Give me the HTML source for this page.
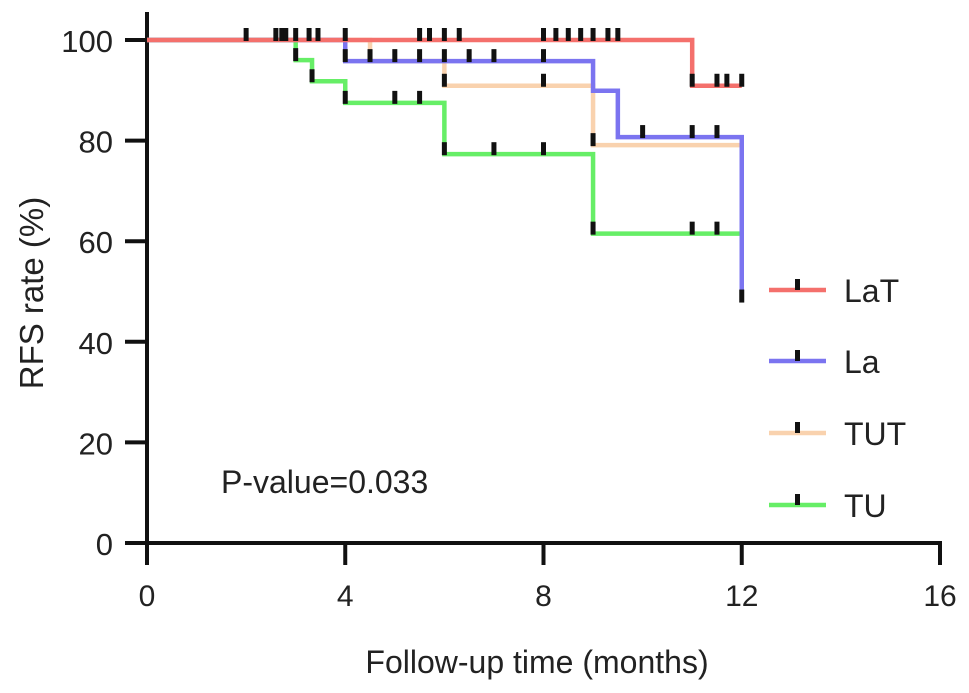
<!DOCTYPE html>
<html><head><meta charset="utf-8"><style>
body{margin:0;background:#fff}
svg{display:block;font-family:"Liberation Sans",Arial,sans-serif}
</style></head><body>
<svg id="chart" width="969" height="693" viewBox="0 0 969 693">
<g id="axes"></g>
<g id="series"></g>
<g id="legend"></g>
<text x="221" y="493" font-size="32" fill="#222">P-value=0.033</text>
<text x="537" y="673" font-size="32" text-anchor="middle" fill="#222">Follow-up time (months)</text>
<text transform="translate(43,293) rotate(-90)" font-size="33" text-anchor="middle" fill="#222">RFS rate (%)</text>
</svg>
<script>
const xTicks=[0,4,8,12,16];
const yTicks=[0,20,40,60,80,100];
const seriesNames=["LaT","La","TUT","TU"];
const seriesColors=["#f4706c","#7b74f0","#f9d2ae","#66ee66"];
const lat_t=[0,11,12], lat_v=[100,90.9,90.9];
const la_t=[0,4,9,9.5,12], la_v=[100,95.8,89.9,80.7,48];
const tut_t=[0,4.5,6,9,12], tut_v=[100,95.8,90.9,79.1,79.1];
const tu_t=[0,3,3.33,4,6,9,12], tu_v=[100,96,91.8,87.5,77.3,61.5,61.5];
const lat_c=[2,2.6,2.72,2.8,3,3.27,3.45,4,5.5,5.7,6,6.3,8,8.25,8.5,8.75,9,9.3,9.5,11,11.5,11.7,12];
const la_c=[4,4.5,5,5.5,6,6.5,7,8,10,11,11.5,12];
const tut_c=[6,8,9];
const tu_c=[3,3.33,4,5,5.5,6,7,8,9,11,11.5];
const ns="http://www.w3.org/2000/svg";
const X=t=>147+t*(940-147)/16;
const Y=v=>543-v*(543-40)/100;
function mk(tag,attrs,parent){const e=document.createElementNS(ns,tag);for(const k in attrs)e.setAttribute(k,attrs[k]);parent.appendChild(e);return e;}
const axes=document.getElementById('axes');
let a=mk('line',{x1:147,y1:12,x2:147,y2:545,stroke:'#111','stroke-width':4},axes);


a=mk('line',{x1:145,y1:543,x2:942,y2:543,stroke:'#111','stroke-width':4},axes);


xTicks.forEach(t=>{
 const l=mk('line',{x1:X(t),y1:543,x2:X(t),y2:565,stroke:'#111','stroke-width':4},axes);
 
 
 const tx=mk('text',{x:X(t),y:606,'font-size':30,'text-anchor':'middle',fill:'#222'},axes);
 tx.textContent=t;
 
 
});
yTicks.forEach(v=>{
 const l=mk('line',{x1:125,y1:Y(v),x2:147,y2:Y(v),stroke:'#111','stroke-width':4},axes);
 
 
 const tx=mk('text',{x:113,y:Y(v)+12,'font-size':31,'text-anchor':'end',fill:'#222'},axes);
 tx.textContent=v;
 
 
});
const sg=document.getElementById('series');
const data=[[lat_t,lat_v,lat_c],[la_t,la_v,la_c],[tut_t,tut_v,tut_c],[tu_t,tu_v,tu_c]];
function valAt(ts,vs,t){let v=vs[0];for(let i=0;i<ts.length;i++){if(ts[i]<=t)v=vs[i];}return v;}
const order=[2,3,1,0];
order.forEach(i=>{
 const [ts,vs]=data[i];
 let d=`M${X(ts[0])},${Y(vs[0])}`;
 for(let k=1;k<ts.length;k++){d+=` H${X(ts[k])} V${Y(vs[k])}`;}
 const p=mk('path',{d:d,fill:'none',stroke:seriesColors[i],'stroke-width':4.5},sg);
 
 
});
order.forEach(i=>{
 const [ts,vs,cs]=data[i];
 cs.forEach(c=>{
  const v=valAt(ts,vs,c);
  const m=mk('rect',{x:X(c)-2.5,y:Y(v)-12,width:5,height:13,fill:'#111'},sg);
  
  
 });
});
const lg=document.getElementById('legend');
const ly=[290,361,433,505];
seriesNames.forEach((n,i)=>{
 const l=mk('line',{x1:769,y1:ly[i],x2:826,y2:ly[i],stroke:seriesColors[i],'stroke-width':4.5},lg);
 
 
 const m=mk('rect',{x:795,y:ly[i]-11,width:5,height:11,fill:'#111'},lg);
 
 
 const t=mk('text',{x:844,y:ly[i]+12,'font-size':32,fill:'#222'},lg);
 t.textContent=n;
 
 
});
</script>
</body></html>
